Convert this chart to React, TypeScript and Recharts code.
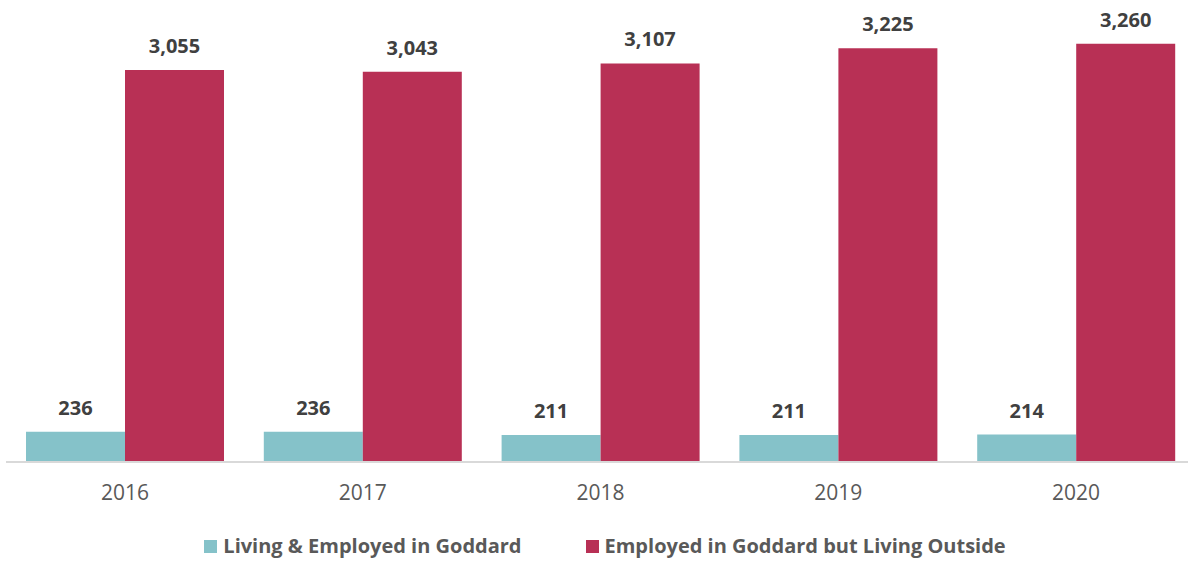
import React from "react";
import { BarChart, Bar, XAxis, YAxis, LabelList, Legend } from "recharts";

const years = ["2016", "2017", "2018", "2019", "2020"];
const livingEmployed = [236, 236, 211, 211, 214];
const employedOutside = [3055, 3043, 3107, 3225, 3260];
const seriesNames = ["Living & Employed in Goddard", "Employed in Goddard but Living Outside"];
const seriesColors = ["#85C2C9", "#B83055"];

const data = years.map((y, i) => ({
  year: y,
  living: livingEmployed[i],
  outside: employedOutside[i],
}));

const fontFamily = "'Open Sans', 'Liberation Sans', sans-serif";

const fmt = (v: any) => Number(v).toLocaleString("en-US");

const renderLegend = () => (
  <div
    style={{
      height: 53,
      display: "flex",
      justifyContent: "center",
      alignItems: "flex-start",
      paddingTop: 24,
      boxSizing: "border-box",
      paddingLeft: 9,
      fontFamily,
      fontWeight: 700,
      fontSize: 20,
      color: "#595959",
      lineHeight: "24px",
    }}
  >
    {seriesNames.map((n, i) => (
      <div key={n} style={{ display: "flex", alignItems: "center", marginRight: i === 0 ? 64 : 0 }}>
        <span style={{ width: 13, height: 13, background: seriesColors[i], display: "inline-block", marginRight: 6 }} />
        <span>{n}</span>
      </div>
    ))}
  </div>
);

export default function App() {
  return (
    <div style={{ position: "absolute", left: 0, top: 0, width: 1188, height: 563, overflow: "hidden", background: "#fff" }}>
      <BarChart
        width={1195}
        height={563}
        data={data}
        margin={{ top: 13, right: 0, left: 6, bottom: 0 }}
        barCategoryGap={20}
        barGap={0}
      >
        <XAxis
          dataKey="year"
          height={48}
          tickLine={false}
          axisLine={{ stroke: "#D9D9D9", strokeWidth: 2 }}
          tickMargin={17}
          tick={{ fill: "#595959", fontSize: 21, fontFamily }}
        />
        <YAxis hide domain={[0, 3500]} />
        <Legend verticalAlign="bottom" height={53} content={renderLegend} />
        <Bar dataKey="living" name={seriesNames[0]} fill={seriesColors[0]} isAnimationActive={false}>
          <LabelList
            dataKey="living"
            position="top"
            offset={17}
            formatter={fmt}
            style={{ fill: "#404040", fontSize: 20, fontWeight: 700, fontFamily }}
          />
        </Bar>
        <Bar dataKey="outside" name={seriesNames[1]} fill={seriesColors[1]} isAnimationActive={false}>
          <LabelList
            dataKey="outside"
            position="top"
            offset={17}
            formatter={fmt}
            style={{ fill: "#404040", fontSize: 20, fontWeight: 700, fontFamily }}
          />
        </Bar>
      </BarChart>
    </div>
  );
}
